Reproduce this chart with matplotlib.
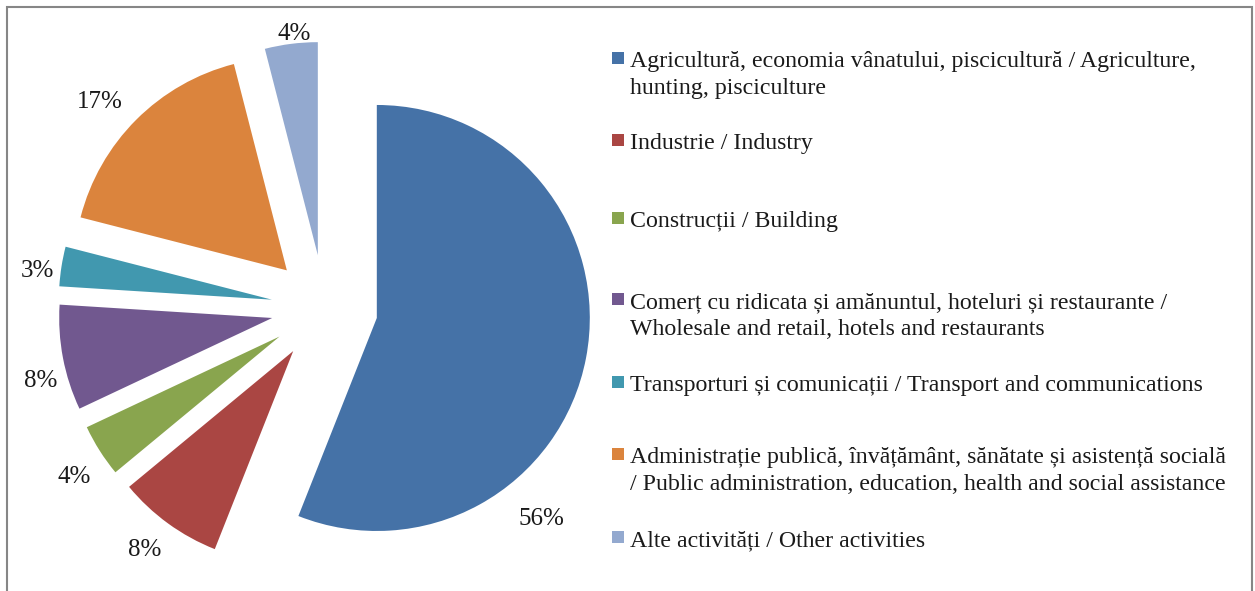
import matplotlib.pyplot as plt
from matplotlib.patches import Rectangle
import numpy as np

plt.rcParams["font.family"] = ["Liberation Serif", "DejaVu Serif"]

shares = [56, 8, 4, 8, 3, 17, 4]
categories = [
    "Agricultură, economia vânatului, piscicultură / Agriculture,\nhunting, pisciculture",
    "Industrie / Industry",
    "Construcții / Building",
    "Comerț cu ridicata și amănuntul, hoteluri și restaurante /\nWholesale and retail, hotels and restaurants",
    "Transporturi și comunicații / Transport and communications",
    "Administrație publică, învățământ, sănătate și asistență socială\n/ Public administration, education, health and social assistance",
    "Alte activități / Other activities",
]
colors = ["#4572A7", "#AA4643", "#89A54E", "#71588F", "#4198AF", "#DB843D", "#93A9CF"]

# label placement tweaks (radius in pie radii, angle offset in degrees)
label_r = [1.41, 1.40, 1.41, 1.37, 1.36, 1.44, 1.31]
label_dang = [-33, -1, 1, 3, 1, 2, -1]

W, H = 1255, 591
cx, cy, R = 324.5, 308, 213  # pie centre / radius in pixels

fig = plt.figure(figsize=(W / 100, H / 100), dpi=100)
ax = fig.add_axes([0, 0, 1, 1])

wedges, _ = ax.pie(
    shares,
    colors=colors,
    startangle=90,
    counterclock=False,
    explode=[0.25] * len(shares),
    radius=1,
    wedgeprops=dict(linewidth=0),
)
ax.set_xlim(-cx / R, (W - cx) / R)
ax.set_ylim((cy - H) / R, cy / R)
ax.set_aspect("equal")
ax.axis("off")

for w, s, r, da in zip(wedges, shares, label_r, label_dang):
    ang = np.deg2rad((w.theta1 + w.theta2) / 2 + da)
    ax.text(r * np.cos(ang), r * np.sin(ang) - 0.016, f"{s}%",
            ha="center", va="center", fontsize=18, color="#1a1a1a")

# legend drawn by hand to match the spacing
leg_y = [58, 140, 218, 299, 382, 454, 537]
for y, c, lab in zip(leg_y, colors, categories):
    fig.patches.append(Rectangle((612 / W, 1 - (y + 6) / H), 12 / W, 12 / H,
                                 transform=fig.transFigure, color=c, lw=0))
    for k, line in enumerate(lab.split("\n")):
        fig.text(630 / W, 1 - (y + 9 + 26.6 * k) / H, line, ha="left",
                 va="baseline", fontsize=17.2, color="#1a1a1a")

# chart border
fig.patches.append(Rectangle((7 / W, -0.1), (1252 - 7) / W, 1.1 - 7 / H,
                             transform=fig.transFigure, fill=False,
                             edgecolor="#868686", lw=1.5))

fig.savefig("out.png", dpi=100)
